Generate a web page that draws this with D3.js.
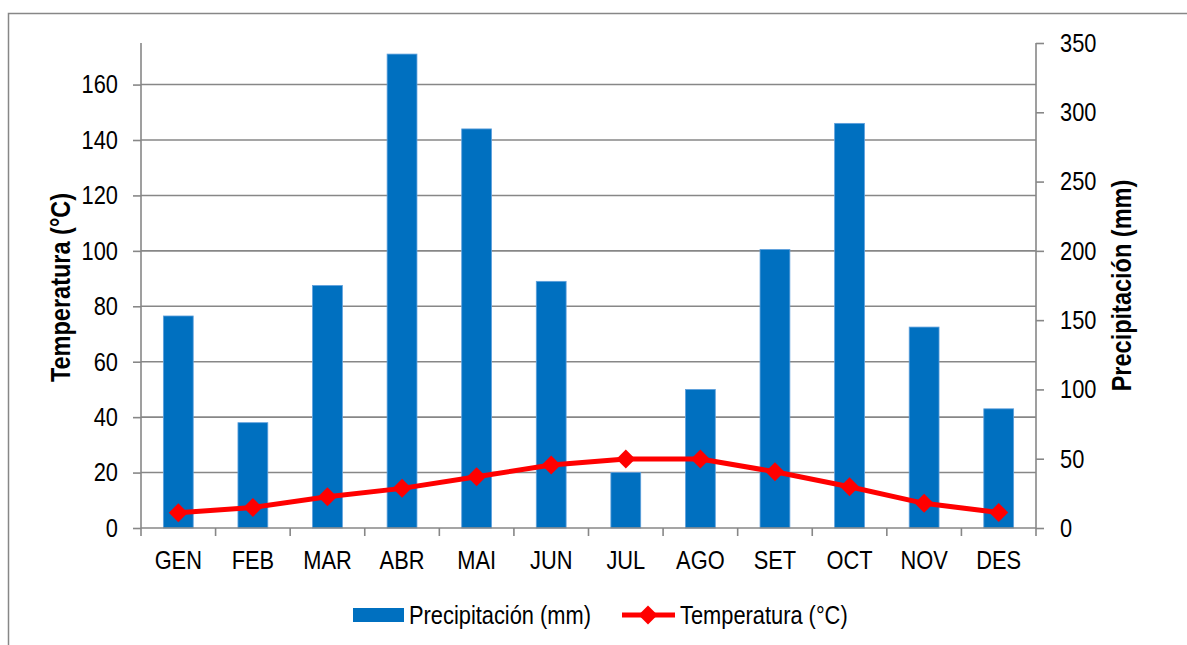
<!DOCTYPE html>
<html>
<head>
<meta charset="utf-8">
<script src="https://cdn.jsdelivr.net/npm/d3@7"></script>
<style>
  html, body { margin: 0; padding: 0; background: #fff; }
  svg { display: block; }
  text { font-family: "Liberation Sans", Arial, sans-serif; fill: #000; }
</style>
</head>
<body>
<svg id="chart" width="1187" height="645"></svg>
<script>
// Monthly climate data
const months = ["GEN", "FEB", "MAR", "ABR", "MAI", "JUN", "JUL", "AGO", "SET", "OCT", "NOV", "DES"];
const precipitation = [153, 76, 175, 342, 288, 178, 40, 100, 201, 292, 145, 86]; // mm
const temperature = [5.5, 7.4, 11.3, 14.3, 18.5, 22.7, 24.9, 24.9, 20.3, 14.9, 8.9, 5.6]; // °C
const tempTicks = [0, 20, 40, 60, 80, 100, 120, 140, 160];
const precTicks = [0, 50, 100, 150, 200, 250, 300, 350];
const seriesNames = ["Precipitación (mm)", "Temperatura (°C)"];
const axisTitles = ["Temperatura (°C)", "Precipitación (mm)"];

const W = 1187, H = 645;
const plot = { left: 141, right: 1036, top: 43, bottom: 528 };
const gridColor = "#878787";
const barColor = "#0070C0";
const lineColor = "#FF0000";
const fontSize = 26;
const narrowX = 0.84; // condensed lettering

// Re-anchor text at its own position and squeeze it horizontally
function condense(sel) {
  sel.each(function () {
    const t = d3.select(this);
    const tx = +t.attr("x") || 0, ty = +t.attr("y") || 0;
    const prev = t.attr("transform") || "";
    t.attr("x", 0).attr("y", 0)
      .attr("transform", `${prev} translate(${tx},${ty}) scale(${narrowX},1)`);
  });
}

const svg = d3.select("#chart");
svg.append("rect").attr("width", W).attr("height", H).attr("fill", "#fff");

// Outer chart frame
svg.append("rect")
  .attr("x", 8.5).attr("y", 13.5)
  .attr("width", W + 20).attr("height", H + 20)
  .attr("fill", "none").attr("stroke", gridColor).attr("stroke-width", 1.5);

const x = d3.scaleBand().domain(months).range([plot.left, plot.right]).paddingInner(0.6).paddingOuter(0.3);
const yT = d3.scaleLinear().domain([0, 175]).range([plot.bottom, plot.top]);
const yP = d3.scaleLinear().domain([0, 350]).range([plot.bottom, plot.top]);

// Horizontal gridlines on the temperature ticks
svg.append("g").selectAll("line")
  .data(tempTicks.filter(d => d > 0))
  .join("line")
  .attr("x1", plot.left).attr("x2", plot.right)
  .attr("y1", d => yT(d)).attr("y2", d => yT(d))
  .attr("stroke", gridColor).attr("stroke-width", 1.6);

// Precipitation bars (right axis)
svg.append("g").selectAll("rect")
  .data(months.map((m, i) => ({ m, v: precipitation[i] })))
  .join("rect")
  .attr("x", d => x(d.m))
  .attr("width", x.bandwidth())
  .attr("y", d => yP(d.v))
  .attr("height", d => yP(0) - yP(d.v))
  .attr("fill", barColor)
  .attr("stroke", "#5fa0dc").attr("stroke-width", 0.8);

// Left axis (temperature)
const axL = svg.append("g").attr("transform", `translate(${plot.left},0)`)
  .call(d3.axisLeft(yT).tickValues(tempTicks).tickSize(8).tickPadding(15).tickSizeOuter(0));
// Right axis (precipitation)
const axR = svg.append("g").attr("transform", `translate(${plot.right},0)`)
  .call(d3.axisRight(yP).tickValues(precTicks).tickSize(8).tickPadding(16).tickSizeOuter(0));
// Bottom axis (months), ticks on category boundaries
const boundaries = d3.range(months.length + 1).map(i => plot.left + i * (plot.right - plot.left) / months.length);
const axB = svg.append("g").attr("transform", `translate(0,${plot.bottom})`);
axB.append("line").attr("x1", plot.left).attr("x2", plot.right).attr("stroke", gridColor).attr("stroke-width", 1.6);
axB.selectAll("line.tick").data(boundaries).join("line").attr("class", "tick")
  .attr("x1", d => d).attr("x2", d => d).attr("y1", 0).attr("y2", 8)
  .attr("stroke", gridColor).attr("stroke-width", 1.6);
axB.selectAll("text").data(months).join("text")
  .attr("x", d => x(d) + x.bandwidth() / 2).attr("y", 41)
  .attr("text-anchor", "middle").attr("font-size", fontSize).text(d => d)
  .call(condense);

[axL, axR].forEach(g => {
  g.select(".domain").attr("stroke", gridColor).attr("stroke-width", 1.6)
    .attr("d", `M0,${plot.top}V${plot.bottom}`);
  g.selectAll(".tick line").attr("stroke", gridColor).attr("stroke-width", 1.6);
  g.selectAll(".tick text").attr("font-size", fontSize).attr("font-family", null).attr("fill", "#000")
    .call(condense);
});

// Temperature line with diamond markers (left axis)
const cx = m => x(m) + x.bandwidth() / 2;
const pts = months.map((m, i) => [cx(m), yT(temperature[i])]);
svg.append("path").datum(pts)
  .attr("d", d3.line())
  .attr("fill", "none").attr("stroke", lineColor).attr("stroke-width", 5)
  .attr("stroke-linejoin", "round");
const diamond = (r) => `M0,${-r}L${r},0L0,${r}L${-r},0Z`;
svg.append("g").selectAll("path").data(pts).join("path")
  .attr("transform", d => `translate(${d[0]},${d[1]})`)
  .attr("d", diamond(9.5)).attr("fill", lineColor);

// Axis titles (rotated, condensed along the reading direction)
svg.append("text")
  .attr("transform", `translate(70,${(plot.top + plot.bottom) / 2 + 2}) rotate(-90) scale(${narrowX},1)`)
  .attr("text-anchor", "middle").attr("font-weight", "bold").attr("font-size", 28)
  .text(axisTitles[0]);
svg.append("text")
  .attr("transform", `translate(1131,${(plot.top + plot.bottom) / 2}) rotate(-90) scale(${narrowX},1)`)
  .attr("text-anchor", "middle").attr("font-weight", "bold").attr("font-size", 28)
  .text(axisTitles[1]);

// Legend
const lg = svg.append("g");
lg.append("rect").attr("x", 353).attr("y", 608).attr("width", 51).attr("height", 14).attr("fill", barColor);
lg.append("text").attr("x", 409).attr("y", 624).attr("font-size", fontSize).text(seriesNames[0]).call(condense);
lg.append("line").attr("x1", 622).attr("x2", 675).attr("y1", 615).attr("y2", 615)
  .attr("stroke", lineColor).attr("stroke-width", 5);
lg.append("path").attr("transform", "translate(648,615)").attr("d", diamond(9.5)).attr("fill", lineColor);
lg.append("text").attr("x", 680).attr("y", 624).attr("font-size", fontSize).text(seriesNames[1]).call(condense);
</script>
</body>
</html>
